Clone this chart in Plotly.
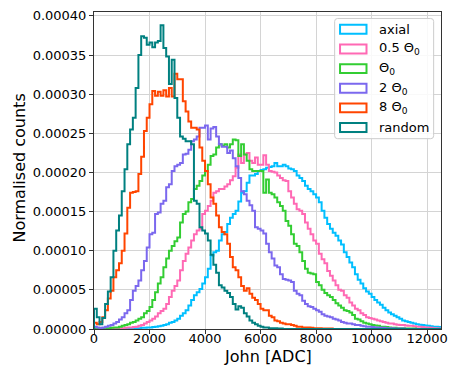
import numpy as np
import plotly.graph_objects as go

# ---------------- data (normalised counts, in units of 1e-5) ----------------
BIN_LO, BIN_HI, N_BINS = 0, 12500, 125
UNIT = 1e-5

axial = [0, 0, 0, 0, 0, 0, 0, 0, 0, 0,
         0.02, 0.03, 0.05, 0.05, 0.05, 0.1, 0.1, 0.15, 0.15, 0.2,
         0.2, 0.25, 0.3, 0.35, 0.4, 0.5, 0.6, 0.8, 0.9, 1.1,
         1.3, 1.7, 2.0, 2.4, 3.0, 3.7, 4.3, 4.7, 5.1, 5.8,
         6.6, 7.7, 9.4, 9.8, 10.0, 11.3, 12.1, 12.4, 13.4, 14.2,
         14.7, 15.1, 16.3, 17.4, 17.6, 18.7, 19.6, 19.6, 19.8, 20.2,
         20.3, 20.4, 20.6, 20.7, 20.8, 21.2, 20.8, 20.8, 21.0, 20.8,
         20.5, 20.4, 20.2, 19.6, 19.3, 18.9, 18.3, 17.9, 17.6, 17.2,
         16.8, 16.2, 15.1, 14.2, 13.4, 12.8, 12.3, 11.9, 11.3, 10.8,
         9.8, 9.2, 8.5, 7.9, 7.0, 6.3, 5.8, 5.2, 4.8, 4.5,
         4.1, 3.7, 3.4, 3.1, 2.7, 2.4, 2.1, 1.9, 1.7, 1.5,
         1.3, 1.1, 1.0, 0.9, 0.8, 0.7, 0.6, 0.55, 0.5, 0.45,
         0.4, 0.35, 0.3, 0.3, 0.25]

half_theta = [0, 0, 0, 0.05, 0.05, 0.05, 0.05, 0.05, 0.1, 0.1,
              0.1, 0.15, 0.2, 0.2, 0.25, 0.3, 0.4, 0.5, 0.7, 0.9,
              1.1, 1.3, 1.6, 2.0, 2.3, 2.6, 3.2, 4.1, 4.9, 5.5,
              6.2, 7.5, 8.7, 9.6, 10.4, 11.3, 12.1, 12.6, 12.8, 14.7,
              15.1, 15.7, 16.4, 17.4, 17.6, 17.9, 17.9, 18.2, 18.5, 19.0,
              19.5, 20.6, 22.3, 21.2, 22.3, 22.5, 21.5, 21.2, 21.9, 21.0,
              21.0, 22.2, 21.0, 20.2, 20.1, 20.0, 19.6, 19.3, 19.0, 18.9,
              17.6, 16.8, 16.0, 15.3, 15.1, 14.7, 13.6, 12.8, 12.1, 11.3,
              10.9, 9.6, 8.9, 8.4, 7.4, 6.8, 6.2, 5.6, 5.0, 4.9,
              4.3, 4.0, 3.4, 3.0, 2.6, 2.4, 2.0, 1.8, 1.5, 1.4,
              1.3, 1.2, 1.1, 1.0, 0.9, 0.8, 0.7, 0.7, 0.6, 0.55,
              0.5, 0.5, 0.45, 0.4, 0.4, 0.35, 0.3, 0.3, 0.25, 0.2,
              0.2, 0.15, 0.1, 0.1, 0.05]

theta = [0.1, 0.05, 0.05, 0.1, 0.1, 0.1, 0.15, 0.2, 0.2, 0.3,
         0.4, 0.5, 0.6, 0.8, 0.9, 1.1, 1.3, 1.5, 2.0, 2.3,
         2.8, 3.7, 4.7, 5.8, 6.6, 7.9, 9.0, 10.0, 10.6, 11.2,
         11.7, 13.6, 14.7, 15.0, 16.2, 16.6, 17.9, 18.3, 18.9, 19.6,
         20.2, 21.0, 22.1, 22.3, 23.2, 23.6, 23.4, 23.6, 23.2, 23.6,
         24.2, 24.1, 22.1, 23.6, 22.3, 21.5, 20.4, 20.2, 20.2, 20.2,
         20.2, 17.4, 19.1, 17.4, 17.2, 16.8, 16.2, 15.7, 15.1, 13.8,
         13.2, 12.1, 10.9, 10.6, 9.8, 8.7, 7.7, 7.2, 7.1, 7.0,
         6.0, 5.6, 5.0, 4.6, 4.3, 4.1, 3.7, 3.3, 3.0, 2.7,
         2.4, 2.3, 2.1, 1.8, 1.3, 1.2, 1.0, 0.8, 0.7, 0.6,
         0.5, 0.45, 0.4, 0.3, 0.3, 0.25, 0.2, 0.15, 0.15, 0.1,
         0.1, 0.1, 0.05, 0.05, 0.05, 0.05, 0, 0, 0, 0,
         0, 0, 0, 0, 0]

two_theta = [0.3, 0.2, 0.1, 0.2, 0.3, 0.4, 0.5, 0.7, 0.9, 1.2,
             1.5, 2.0, 2.4, 3.7, 4.9, 5.5, 6.2, 7.5, 8.7, 10.4,
             12.1, 12.3, 14.7, 14.9, 16.0, 16.4, 18.1, 18.5, 20.2, 20.8,
             21.0, 21.2, 22.3, 22.4, 22.9, 24.0, 24.2, 24.6, 25.7, 25.7,
             26.0, 24.2, 25.6, 25.8, 24.6, 23.6, 23.3, 23.3, 22.5, 22.8,
             21.8, 20.8, 19.3, 17.6, 17.2, 16.4, 15.8, 15.1, 13.0, 12.8,
             12.6, 12.2, 10.9, 9.8, 9.0, 8.1, 7.9, 7.0, 6.4, 6.3,
             6.2, 6.0, 4.9, 4.5, 4.3, 3.6, 3.2, 2.9, 2.8, 2.6,
             2.4, 2.2, 1.9, 1.7, 1.6, 1.5, 1.3, 1.2, 1.1, 0.9,
             0.8, 0.7, 0.7, 0.6, 0.5, 0.5, 0.4, 0.35, 0.3, 0.3,
             0.25, 0.2, 0.2, 0.15, 0.15, 0.1, 0.1, 0.1, 0.05, 0.05,
             0.05, 0.05, 0, 0, 0, 0, 0, 0, 0, 0,
             0, 0, 0, 0, 0]

eight_theta = [0.8, 0.6, 0.9, 1.5, 2.4, 3.9, 4.9, 6.6, 7.5, 8.4,
               10.0, 12.2, 15.5, 17.4, 17.5, 17.6, 19.8, 22.0, 25.3, 27.0,
               28.7, 30.4, 29.8, 30.3, 29.8, 30.5, 29.7, 30.8, 29.7, 32.6,
               31.9, 31.9, 29.1, 27.8, 26.5, 25.7, 25.7, 25.5, 23.2, 21.5,
               20.2, 18.5, 16.8, 16.0, 14.5, 13.0, 12.4, 12.1, 10.9, 9.2,
               7.9, 7.5, 6.6, 5.5, 4.9, 5.2, 4.5, 4.0, 3.7, 3.2,
               2.6, 2.4, 2.4, 1.7, 1.5, 1.1, 1.0, 0.8, 0.7, 0.6,
               0.6, 0.5, 0.4, 0.3, 0.3, 0.2, 0.2, 0.2, 0.15, 0.1,
               0.1, 0.1, 0.05, 0.05, 0.05, 0.05, 0, 0, 0, 0,
               0, 0, 0, 0, 0, 0, 0, 0, 0, 0,
               0, 0, 0, 0, 0, 0, 0, 0, 0, 0,
               0, 0, 0, 0, 0, 0, 0, 0, 0, 0,
               0, 0, 0, 0, 0]

random_ = [2.6, 1.5, 0.6, 1.4, 3.2, 4.8, 6.6, 10.0, 12.6, 14.5,
           17.6, 20.4, 23.6, 25.5, 27.0, 30.8, 35.0, 37.4, 37.2, 36.3,
           36.6, 36.0, 36.6, 36.8, 38.8, 35.9, 34.8, 31.3, 34.4, 29.5,
           27.0, 24.6, 24.3, 24.0, 24.0, 23.6, 16.4, 16.0, 13.0, 12.6,
           12.2, 11.3, 9.5, 8.2, 7.2, 5.6, 5.3, 4.9, 4.6, 4.1,
           3.2, 2.5, 2.9, 2.7, 2.0, 1.6, 1.1, 0.8, 0.6, 0.4,
           0.3, 0.2, 0.2, 0.1, 0.1, 0.1, 0.05, 0.05, 0, 0,
           0, 0, 0, 0, 0, 0, 0, 0, 0, 0,
           0, 0, 0, 0, 0, 0, 0, 0, 0, 0,
           0, 0, 0, 0, 0, 0, 0, 0, 0, 0,
           0, 0, 0, 0, 0, 0, 0, 0, 0, 0,
           0, 0, 0, 0, 0, 0, 0, 0, 0, 0,
           0, 0, 0, 0, 0]

series_names = ["axial", "0.5 Θ<sub>0</sub>", "Θ<sub>0</sub>", "2 Θ<sub>0</sub>",
                "8 Θ<sub>0</sub>", "random"]
series_values = [axial, half_theta, theta, two_theta, eight_theta, random_]
series_colors = ["#00bfff", "#ff69b4", "#32cd32", "#7b68ee", "#ff4500", "#008080"]

x_ticks = [0, 2000, 4000, 6000, 8000, 10000, 12000]
y_ticks = [0.0, 0.00005, 0.0001, 0.00015, 0.0002, 0.00025, 0.0003, 0.00035, 0.0004]

# ---------------- figure ----------------
W, H = 456, 365
ML, MR, MT, MB = 94, 8, 10, 36
PW, PH = W - ML - MR, H - MT - MB
FONT = "DejaVu Sans"

edges = np.linspace(BIN_LO, BIN_HI, N_BINS + 1)

fig = go.Figure()
for name, vals, col in zip(series_names, series_values, series_colors):
    v = np.asarray(vals, dtype=float) * UNIT
    xs = np.concatenate([[edges[0]], edges[:-1], [edges[-1]]])
    ys = np.concatenate([[0.0], v, [0.0]])
    fig.add_trace(go.Scatter(x=xs, y=ys, mode="lines", name=name,
                             line=dict(color=col, width=2, shape="hv"),
                             showlegend=False, hoverinfo="skip"))

axis_common = dict(showline=True, linecolor="#333333", linewidth=1, mirror=True,
                   ticks="outside", ticklen=4, tickcolor="#333333", tickwidth=1,
                   showgrid=True, gridcolor="#d4d4d4", gridwidth=1, zeroline=False,
                   tickfont=dict(family=FONT, size=13, color="#000000"))

fig.update_xaxes(range=[BIN_LO, BIN_HI], tickvals=x_ticks,
                 ticktext=[str(t) for t in x_ticks], ticklabelstandoff=-7, **axis_common)
fig.update_yaxes(range=[0, 0.000405], tickvals=y_ticks,
                 ticktext=[f"{t:.5f}" for t in y_ticks], **axis_common)


def px2paper(px, py):
    return (px - ML) / PW, (H - MB - py) / PH


annotations = []
shapes = []

# axis titles
xt, yt = px2paper(271, 356.5)
annotations.append(dict(text="John [ADC]", x=0.5, y=yt, xref="paper", yref="paper",
                        xanchor="center", yanchor="middle", showarrow=False,
                        font=dict(family=FONT, size=16, color="#000000")))
xt, yt = px2paper(18, 167)
annotations.append(dict(text="Normalised counts", x=xt, y=yt, xref="paper", yref="paper",
                        xanchor="center", yanchor="middle", showarrow=False, textangle=-90,
                        font=dict(family=FONT, size=16, color="#000000")))

# legend box (rounded)
bx0, by0 = px2paper(339.5, 137.5)
bx1, by1 = px2paper(440.5, 16.5)
rx, ry = 3 / PW, 3 / PH
path = (f"M {bx0+rx},{by0} L {bx1-rx},{by0} Q {bx1},{by0} {bx1},{by0+ry} "
        f"L {bx1},{by1-ry} Q {bx1},{by1} {bx1-rx},{by1} L {bx0+rx},{by1} "
        f"Q {bx0},{by1} {bx0},{by1-ry} L {bx0},{by0+ry} Q {bx0},{by0} {bx0+rx},{by0} Z")
shapes.append(dict(type="path", path=path, xref="paper", yref="paper",
                   fillcolor="rgba(255,255,255,0.85)", line=dict(color="#cccccc", width=1),
                   layer="above"))

row_y = [27.3, 47.2, 67.0, 86.7, 106.5, 126.3]
for name, col, ry_px in zip(series_names, series_colors, row_y):
    px0, py0 = px2paper(345, ry_px + 4.5)
    px1, py1 = px2paper(372, ry_px - 4.5)
    shapes.append(dict(type="rect", xref="paper", yref="paper", x0=px0, x1=px1, y0=py0, y1=py1,
                       line=dict(color=col, width=2), fillcolor="rgba(0,0,0,0)", layer="above"))
    tx, ty = px2paper(382.5, ry_px)
    annotations.append(dict(text=name, x=tx, y=ty, xref="paper", yref="paper",
                            xanchor="left", yanchor="middle", showarrow=False,
                            font=dict(family=FONT, size=13, color="#000000")))

fig.update_layout(width=W, height=H, margin=dict(l=ML, r=MR, t=MT, b=MB),
                  paper_bgcolor="white", plot_bgcolor="white",
                  showlegend=False, annotations=annotations, shapes=shapes)

fig.write_html("out.html")
